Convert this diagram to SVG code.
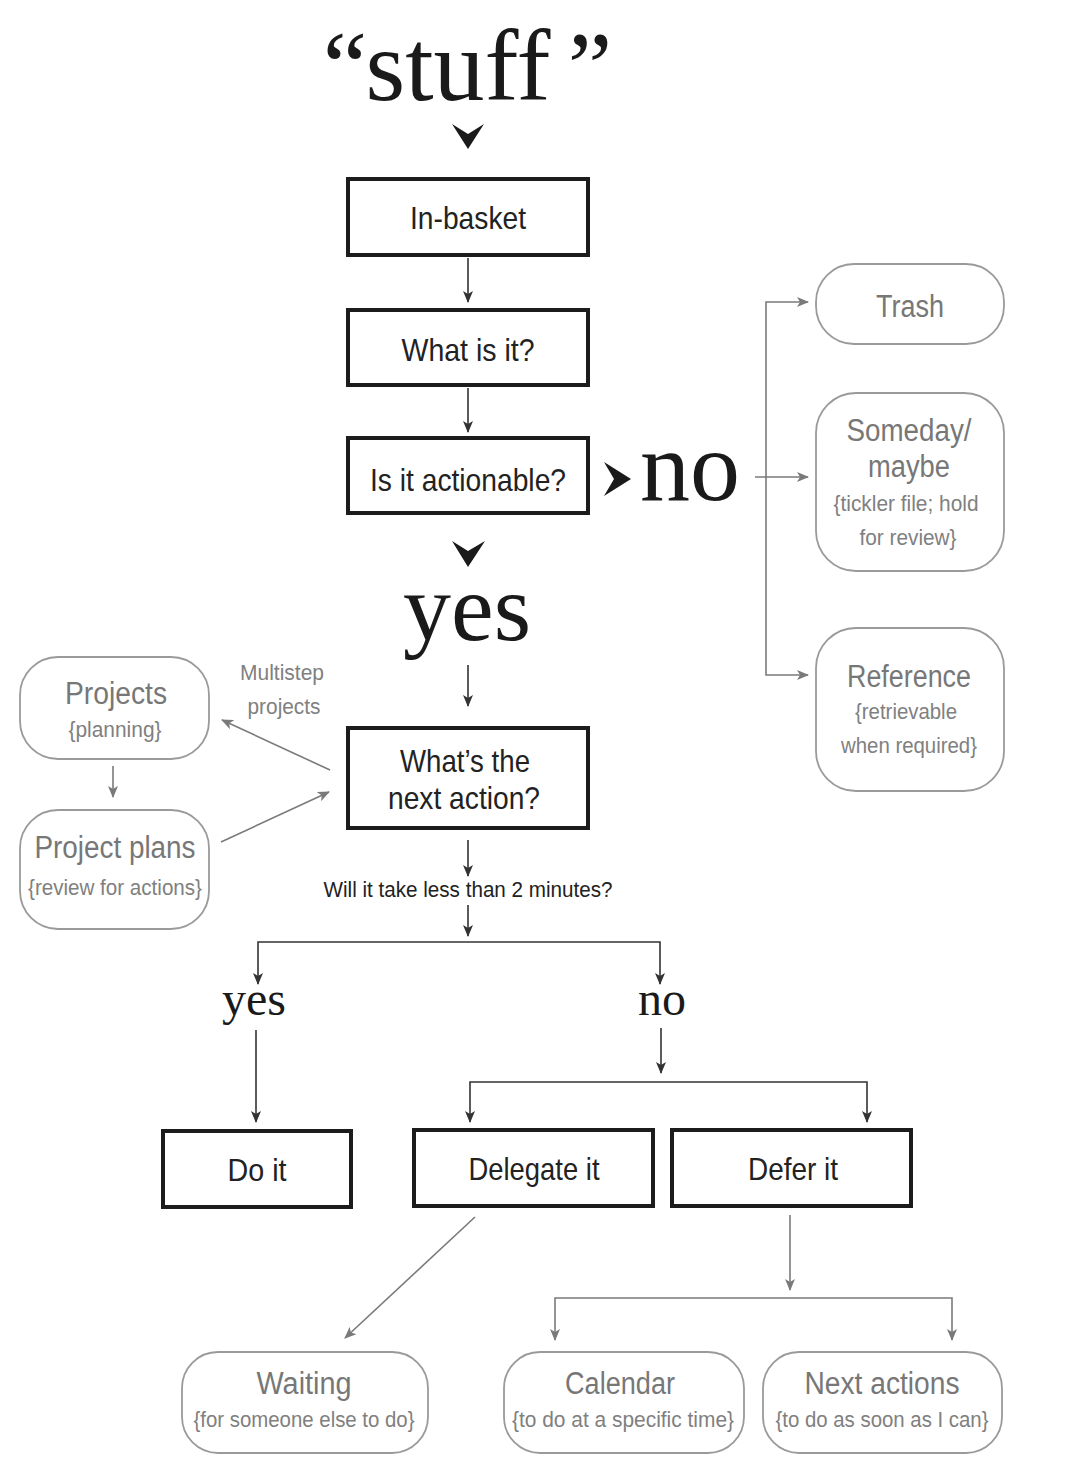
<svg xmlns="http://www.w3.org/2000/svg" width="1080" height="1483" viewBox="0 0 1080 1483">
<style>
.bg{fill:#ffffff}
.box{fill:#ffffff;stroke:#1c1c1c;stroke-width:4}
.rbox{fill:#ffffff;stroke:#9a9a9a;stroke-width:1.8}
.t{font-family:"Liberation Sans",Arial,sans-serif;font-size:32px;fill:#222;text-anchor:middle}
.g{font-family:"Liberation Sans",Arial,sans-serif;font-size:31px;fill:#777;text-anchor:middle}
.gs{font-family:"Liberation Sans",Arial,sans-serif;font-size:22px;fill:#808080;text-anchor:middle}
.q{font-family:"Liberation Sans",Arial,sans-serif;font-size:22px;fill:#222;text-anchor:middle}
.serif{font-family:"Liberation Serif","Times New Roman",serif;fill:#1a1a1a;text-anchor:middle}
.cb{fill:none;stroke:#333;stroke-width:1.6}
.cg{fill:none;stroke:#7a7a7a;stroke-width:1.6}
.chev{fill:#1a1a1a}
</style>
<defs>
<marker id="ab" markerUnits="userSpaceOnUse" markerWidth="12" markerHeight="12" refX="11" refY="6" orient="auto">
<path d="M0,1 L12,6 L0,11 L3,6 z" fill="#333"/>
</marker>
<marker id="ag" markerUnits="userSpaceOnUse" markerWidth="12" markerHeight="12" refX="11" refY="6" orient="auto">
<path d="M0,1 L12,6 L0,11 L3,6 z" fill="#7a7a7a"/>
</marker>
</defs>
<rect class="bg" x="0" y="0" width="1080" height="1483"/>

<g id="stuff">
<text class="serif" x="345" y="100" font-size="100">“</text>
<text class="serif" x="458" y="100" font-size="102">stuff</text>
<text class="serif" x="590" y="100" font-size="100">”</text>
<path class="chev" d="M452,124 L468,134 L484,124 L468,149 z"/>
</g>

<g id="connectors">
<path class="cb" d="M468,258 V302" marker-end="url(#ab)"/>
<path class="cb" d="M468,388 V432" marker-end="url(#ab)"/>
<path class="cb" d="M468,665 V706" marker-end="url(#ab)"/>
<path class="cb" d="M468,840 V876" marker-end="url(#ab)"/>
<path class="cb" d="M468,905 V936" marker-end="url(#ab)"/>
<path class="cb" d="M468,942 H258 V984" marker-end="url(#ab)"/>
<path class="cb" d="M468,942 H660 V984" marker-end="url(#ab)"/>
<path class="cb" d="M256,1030 V1122" marker-end="url(#ab)"/>
<path class="cb" d="M661,1028 V1073" marker-end="url(#ab)"/>
<path class="cb" d="M661,1082 H470 V1122" marker-end="url(#ab)"/>
<path class="cb" d="M661,1082 H867 V1122" marker-end="url(#ab)"/>
<path class="cg" d="M755,477 H808" marker-end="url(#ag)"/>
<path class="cg" d="M766,477 V302 H808" marker-end="url(#ag)"/>
<path class="cg" d="M766,477 V675 H808" marker-end="url(#ag)"/>
<path class="cg" d="M113,766 V797" marker-end="url(#ag)"/>
<path class="cg" d="M330,770 L222,720" marker-end="url(#ag)"/>
<path class="cg" d="M221,842 L329,792" marker-end="url(#ag)"/>
<path class="cg" d="M475,1217 L345,1338" marker-end="url(#ag)"/>
<path class="cg" d="M790,1215 V1290" marker-end="url(#ag)"/>
<path class="cg" d="M790,1298 H555 V1340" marker-end="url(#ag)"/>
<path class="cg" d="M790,1298 H952 V1340" marker-end="url(#ag)"/>
</g>

<g id="in-basket">
<rect class="box" x="348" y="179" width="240" height="76"/>
<text class="t" x="468" y="229" textLength="116" lengthAdjust="spacingAndGlyphs">In-basket</text>
</g>

<g id="what-is-it">
<rect class="box" x="348" y="310" width="240" height="75"/>
<text class="t" x="468" y="361" textLength="133" lengthAdjust="spacingAndGlyphs">What is it?</text>
</g>

<g id="actionable">
<rect class="box" x="348" y="438" width="240" height="75"/>
<text class="t" x="468" y="491" textLength="196" lengthAdjust="spacingAndGlyphs">Is it actionable?</text>
</g>

<g id="no-label">
<path class="chev" d="M604,462 L631,479 L604,496 L614,479 z"/>
<text class="serif" x="690" y="500" font-size="100">no</text>
</g>

<g id="yes-label">
<path class="chev" d="M452,541 L468,551 L485,541 L468,567 z"/>
<text class="serif" x="467" y="640" font-size="96">yes</text>
</g>

<g id="trash">
<rect class="rbox" x="816" y="264" width="188" height="80" rx="38"/>
<text class="g" x="910" y="317" textLength="68" lengthAdjust="spacingAndGlyphs">Trash</text>
</g>

<g id="someday">
<rect class="rbox" x="816" y="393" width="188" height="178" rx="40"/>
<text class="g" x="909" y="441" textLength="125" lengthAdjust="spacingAndGlyphs">Someday/</text>
<text class="g" x="909" y="477" textLength="82" lengthAdjust="spacingAndGlyphs">maybe</text>
<text class="gs" x="906" y="511" textLength="145" lengthAdjust="spacingAndGlyphs">{tickler file; hold</text>
<text class="gs" x="908" y="545" textLength="97" lengthAdjust="spacingAndGlyphs">for review}</text>
</g>

<g id="reference">
<rect class="rbox" x="816" y="628" width="188" height="163" rx="40"/>
<text class="g" x="909" y="687" textLength="124" lengthAdjust="spacingAndGlyphs">Reference</text>
<text class="gs" x="906" y="719" textLength="102" lengthAdjust="spacingAndGlyphs">{retrievable</text>
<text class="gs" x="909" y="753" textLength="136" lengthAdjust="spacingAndGlyphs">when required}</text>
</g>

<g id="projects">
<rect class="rbox" x="20" y="657" width="189" height="102" rx="38"/>
<text class="g" x="116" y="704" textLength="102" lengthAdjust="spacingAndGlyphs">Projects</text>
<text class="gs" x="115" y="737" textLength="93" lengthAdjust="spacingAndGlyphs">{planning}</text>
</g>

<g id="multistep-label">
<text class="gs" x="282" y="680" textLength="84" lengthAdjust="spacingAndGlyphs">Multistep</text>
<text class="gs" x="284" y="714" textLength="73" lengthAdjust="spacingAndGlyphs">projects</text>
</g>

<g id="project-plans">
<rect class="rbox" x="20" y="810" width="189" height="119" rx="38"/>
<text class="g" x="115" y="858" textLength="161" lengthAdjust="spacingAndGlyphs">Project plans</text>
<text class="gs" x="115" y="895" textLength="174" lengthAdjust="spacingAndGlyphs">{review for actions}</text>
</g>

<g id="next-action">
<rect class="box" x="348" y="728" width="240" height="100"/>
<text class="t" x="465" y="772" textLength="130" lengthAdjust="spacingAndGlyphs">What’s the</text>
<text class="t" x="464" y="809" textLength="152" lengthAdjust="spacingAndGlyphs">next action?</text>
</g>

<g id="two-minutes">
<text class="q" x="468" y="897" textLength="289" lengthAdjust="spacingAndGlyphs">Will it take less than 2 minutes?</text>
</g>

<g id="yes2">
<text class="serif" x="254" y="1015" font-size="48">yes</text>
</g>
<g id="no2">
<text class="serif" x="662" y="1015" font-size="48">no</text>
</g>

<g id="do-it">
<rect class="box" x="163" y="1131" width="188" height="76"/>
<text class="t" x="257" y="1181" textLength="59" lengthAdjust="spacingAndGlyphs">Do it</text>
</g>

<g id="delegate-it">
<rect class="box" x="414" y="1130" width="239" height="76"/>
<text class="t" x="534" y="1180" textLength="131" lengthAdjust="spacingAndGlyphs">Delegate it</text>
</g>

<g id="defer-it">
<rect class="box" x="672" y="1130" width="239" height="76"/>
<text class="t" x="793" y="1180" textLength="90" lengthAdjust="spacingAndGlyphs">Defer it</text>
</g>

<g id="waiting">
<rect class="rbox" x="182" y="1352" width="246" height="101" rx="36"/>
<text class="g" x="304" y="1394" textLength="95" lengthAdjust="spacingAndGlyphs">Waiting</text>
<text class="gs" x="304" y="1427" textLength="221" lengthAdjust="spacingAndGlyphs">{for someone else to do}</text>
</g>

<g id="calendar">
<rect class="rbox" x="504" y="1352" width="240" height="101" rx="36"/>
<text class="g" x="620" y="1394" textLength="110" lengthAdjust="spacingAndGlyphs">Calendar</text>
<text class="gs" x="623" y="1427" textLength="222" lengthAdjust="spacingAndGlyphs">{to do at a specific time}</text>
</g>

<g id="next-actions">
<rect class="rbox" x="763" y="1352" width="239" height="101" rx="36"/>
<text class="g" x="882" y="1394" textLength="155" lengthAdjust="spacingAndGlyphs">Next actions</text>
<text class="gs" x="882" y="1427" textLength="213" lengthAdjust="spacingAndGlyphs">{to do as soon as I can}</text>
</g>
</svg>
